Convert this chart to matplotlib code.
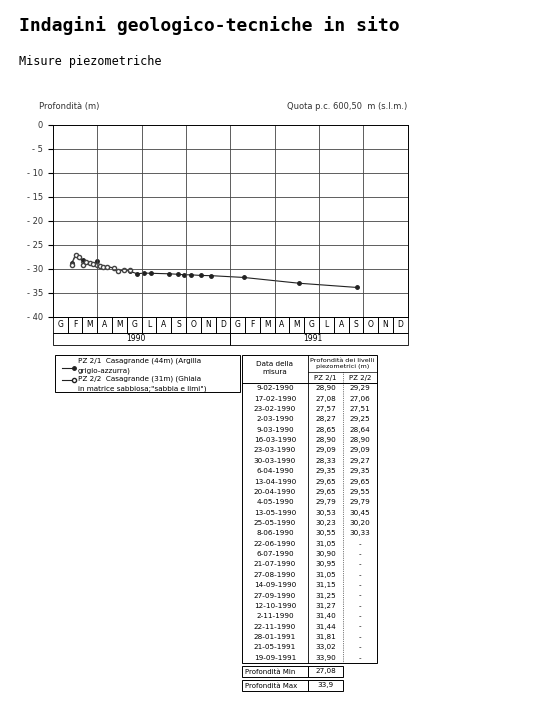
import matplotlib
matplotlib.use('Agg')
import matplotlib.pyplot as plt
from matplotlib.patches import Rectangle

dates = ['9-02-1990', '17-02-1990', '23-02-1990', '2-03-1990', '9-03-1990', '16-03-1990',
         '23-03-1990', '30-03-1990', '6-04-1990', '13-04-1990', '20-04-1990', '4-05-1990',
         '13-05-1990', '25-05-1990', '8-06-1990', '22-06-1990', '6-07-1990', '21-07-1990',
         '27-08-1990', '14-09-1990', '27-09-1990', '12-10-1990', '2-11-1990', '22-11-1990',
         '28-01-1991', '21-05-1991', '19-09-1991']
pz21 = [28.90, 27.08, 27.57, 28.27, 28.65, 28.90, 29.09, 28.33, 29.35, 29.65, 29.65, 29.79,
        30.53, 30.23, 30.55, 31.05, 30.90, 30.95, 31.05, 31.15, 31.25, 31.27, 31.40, 31.44,
        31.81, 33.02, 33.90]
pz22 = [29.29, 27.06, 27.51, 29.25, 28.64, 28.90, 29.09, 29.27, 29.35, 29.65, 29.55, 29.79,
        30.45, 30.20, 30.33]
months = ['G', 'F', 'M', 'A', 'M', 'G', 'L', 'A', 'S', 'O', 'N', 'D']
years = ['1990', '1991']


def to_month(s):
    d, m, y = [int(v) for v in s.split('-')]
    return (y - 1990) * 12 + (m - 1) + (d - 1) / 30.0


x21 = [to_month(d) for d in dates]
x22 = x21[:len(pz22)]

plt.rcParams['font.family'] = ['DejaVu Sans']
fig = plt.figure(figsize=(5.4, 7.2), dpi=100)
fig.text(0.035, 0.965, 'Indagini geologico-tecniche in sito', fontsize=13, weight='bold',
         family='DejaVu Sans Mono', va='center')
fig.text(0.035, 0.915, 'Misure piezometriche', fontsize=8.5, family='DejaVu Sans Mono', va='center')

ax = fig.add_axes([0.098, 0.56, 0.657, 0.267])
ax.plot(x21, [-v for v in pz21], '-', color='#222', lw=0.8, marker='o', ms=2.5, mfc='#222')
ax.plot(x22, [-v for v in pz22], '--', color='#444', lw=0.7, marker='o', ms=3, mfc='white')
ax.set_xlim(0, 24)
ax.set_ylim(-40, 0)
ax.set_yticks(range(-40, 1, 5))
ax.set_yticklabels(['- %d' % -v if v else '0' for v in range(-40, 1, 5)], fontsize=6, color='#333')
ax.set_xticks([])
for v in range(-35, 0, 5):
    ax.axhline(v, color='#444', lw=0.6)
for m in range(3, 24, 3):
    ax.axvline(m, color='#444', lw=0.6)
for s in ax.spines.values():
    s.set_linewidth(0.7)
tr = ax.get_xaxis_transform()
for i in range(24):
    ax.add_patch(Rectangle((i, -0.083), 1, 0.083, transform=tr, fill=False, lw=0.6, clip_on=False))
    ax.text(i + 0.5, -0.042, months[i % 12], transform=tr, ha='center', va='center', fontsize=5.5)
for j, y in enumerate(years):
    ax.add_patch(Rectangle((j * 12, -0.146), 12, 0.063, transform=tr, fill=False, lw=0.6, clip_on=False))
    ax.text(j * 12 + 5.6, -0.115, y, transform=tr, ha='center', va='center', fontsize=5.5)
ax.text(-0.04, 1.08, 'Profondità (m)', transform=ax.transAxes, fontsize=6, color='#333')
ax.text(1.0, 1.08, 'Quota p.c. 600,50  m (s.l.m.)', transform=ax.transAxes, fontsize=6,
        ha='right', color='#333')

# legend box and table, in page pixel coordinates
ov = fig.add_axes([0, 0, 1, 1])
ov.set_xlim(0, 540)
ov.set_ylim(720, 0)
ov.axis('off')
ov.add_patch(Rectangle((55, 355), 185, 37, fill=False, lw=0.7))
ov.plot([62, 74], [368, 368], '-', color='#222', lw=0.8, marker='o', ms=2.5, markevery=[1])
ov.plot([62, 74], [380, 380], '-', color='#222', lw=0.8, marker='o', ms=3, mfc='white', markevery=[1])
ov.text(78, 366, 'PZ 2/1  Casagrande (44m) (Argilla\ngrigio-azzurra)', fontsize=5.2, va='center',
        linespacing=1.6)
ov.text(78, 384, 'PZ 2/2  Casagrande (31m) (Ghiaia\nin matrice sabbiosa;"sabbia e limi")',
        fontsize=5.2, va='center', linespacing=1.6)

tx0, tx1, tx2, tx3 = 242, 308, 343, 377
top, hdr = 355, 383
rh = (663 - hdr) / len(dates)
ov.add_patch(Rectangle((tx0, top), tx3 - tx0, 663 - top, fill=False, lw=0.7))
ov.plot([tx1, tx1], [top, 663], color='k', lw=0.6)
ov.plot([tx2, tx2], [372, 663], color='k', lw=0.5, ls=':')
ov.plot([tx1, tx3], [372, 372], color='k', lw=0.5)
ov.plot([tx0, tx3], [hdr, hdr], color='k', lw=0.7)
ov.text((tx0 + tx1) / 2, 368, 'Data della\nmisura', fontsize=5.2, ha='center', va='center', linespacing=1.5)
ov.text((tx1 + tx3) / 2, 363.5, 'Profondità dei livelli\npiezometrici (m)', fontsize=4.6, ha='center',
        va='center', linespacing=1.4)
ov.text((tx1 + tx2) / 2, 378, 'PZ 2/1', fontsize=5, ha='center', va='center')
ov.text((tx2 + tx3) / 2, 378, 'PZ 2/2', fontsize=5, ha='center', va='center')
for i, d in enumerate(dates):
    y = hdr + rh * (i + 0.5)
    ov.text((tx0 + tx1) / 2, y, d, fontsize=5.2, ha='center', va='center')
    ov.text((tx1 + tx2) / 2, y, ('%.2f' % pz21[i]).replace('.', ','), fontsize=5.2, ha='center', va='center')
    v2 = ('%.2f' % pz22[i]).replace('.', ',') if i < len(pz22) else '-'
    ov.text((tx2 + tx3) / 2, y, v2, fontsize=5.2, ha='center', va='center')
for y0, lab, val in [(666, 'Profondità Min', '27,08'), (680, 'Profondità Max', '33,9')]:
    ov.add_patch(Rectangle((tx0, y0), 66, 11, fill=False, lw=0.7))
    ov.add_patch(Rectangle((tx1, y0), 35, 11, fill=False, lw=0.7))
    ov.text(tx0 + 3, y0 + 5.5, lab, fontsize=5, va='center')
    ov.text((tx1 + tx2) / 2, y0 + 5.5, val, fontsize=5.2, ha='center', va='center')

fig.savefig('out.png', dpi=100)
